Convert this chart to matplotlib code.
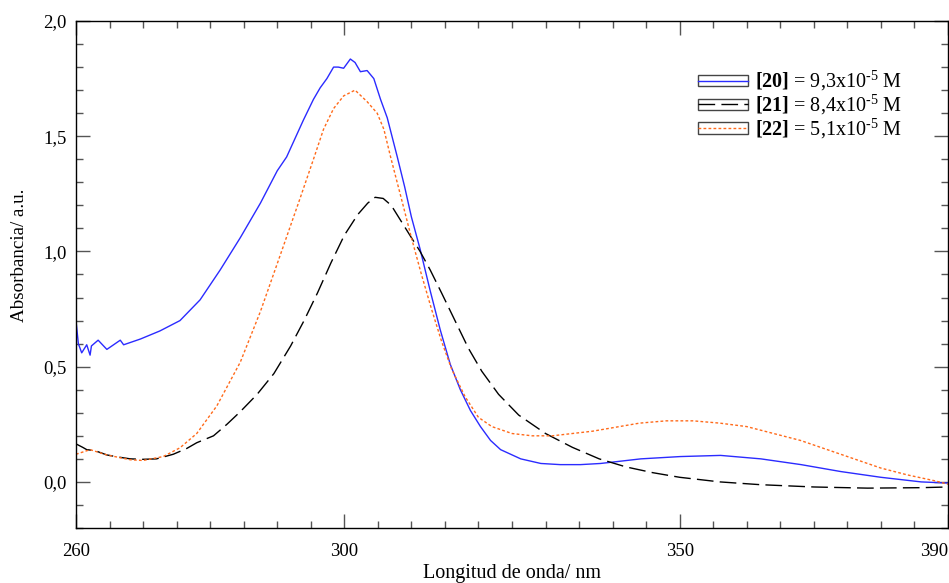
import matplotlib
matplotlib.use("Agg")
import matplotlib.pyplot as plt
from matplotlib.ticker import FixedLocator, MultipleLocator, FuncFormatter
from matplotlib.legend_handler import HandlerLine2D
from matplotlib.patches import Rectangle
from matplotlib.lines import Line2D

plt.rcParams["font.family"] = ["Liberation Serif", "DejaVu Serif"]
plt.rcParams["mathtext.fontset"] = "custom"
plt.rcParams["mathtext.rm"] = "Liberation Serif"
plt.rcParams["mathtext.it"] = "Liberation Serif:italic"
plt.rcParams["mathtext.bf"] = "Liberation Serif:bold"

# ---- spectra: wavelength (nm) and absorbance (a.u.) ----
wl_20 = [260.0, 260.35, 260.85, 261.6, 262.1, 262.3, 263.3, 264.6, 266.6, 267.1,
         269.6, 272.5, 275.5, 278.5, 281.5, 284.5, 287.5, 290.0, 291.4, 293.9,
         295.4, 296.4, 297.4, 298.4, 299.1, 299.9, 300.9, 301.6, 302.4, 303.4,
         304.4, 305.4, 306.4, 307.9, 309.0, 310.0, 311.3, 312.8, 314.3, 315.8,
         317.3, 318.8, 320.3, 321.8, 323.3, 326.3, 329.3, 332.2, 335.2, 338.2,
         344.2, 350.1, 356.1, 362.1, 368.1, 374.0, 380.0, 386.0, 390.0]
abs_20 = [0.70, 0.60, 0.56, 0.595, 0.55, 0.59, 0.615, 0.575, 0.615, 0.595,
          0.62, 0.655, 0.70, 0.79, 0.92, 1.06, 1.21, 1.35, 1.41, 1.57,
          1.66, 1.71, 1.75, 1.80, 1.80, 1.795, 1.835, 1.82, 1.78, 1.785,
          1.75, 1.66, 1.58, 1.41, 1.28, 1.15, 1.01, 0.83, 0.66, 0.51,
          0.40, 0.31, 0.24, 0.18, 0.14, 0.10, 0.08, 0.075, 0.075, 0.08,
          0.10, 0.11, 0.115, 0.10, 0.075, 0.045, 0.02, 0.0, -0.005]

wl_21 = [260.0, 261.0, 261.6, 262.8, 264.6, 266.5, 268.1, 270.0, 272.0, 274.5,
         276.5, 278.0, 280.5, 282.5, 284.5, 287.0, 289.5, 292.0, 294.0, 296.0,
         298.0, 300.0, 302.0, 303.5, 304.6, 305.8, 307.0, 308.5, 310.0, 311.3,
         312.8, 314.5, 316.5, 318.5, 320.5, 323.0, 326.0, 330.0, 334.0, 338.0,
         342.0, 346.0, 350.0, 356.0, 362.0, 370.0, 378.0, 386.0, 390.0]
abs_21 = [0.165, 0.15, 0.14, 0.136, 0.117, 0.107, 0.10, 0.098, 0.10, 0.12,
          0.145, 0.17, 0.20, 0.25, 0.305, 0.38, 0.47, 0.59, 0.70, 0.82,
          0.95, 1.07, 1.16, 1.21, 1.235, 1.23, 1.20, 1.13, 1.06, 1.00,
          0.92, 0.82, 0.70, 0.58, 0.48, 0.38, 0.29, 0.21, 0.15, 0.10,
          0.065, 0.04, 0.02, 0.0, -0.012, -0.022, -0.027, -0.025, -0.022]

wl_22 = [260.0, 262.1, 264.6, 268.1, 270.0, 273.0, 275.5, 278.0, 281.0, 284.5,
         287.5, 290.4, 293.4, 295.4, 296.9, 298.4, 299.9, 301.6, 303.4, 304.9,
         305.9, 306.9, 308.5, 310.0, 311.5, 313.0, 314.5, 316.0, 318.0, 320.0,
         322.0, 325.0, 328.0, 331.0, 334.0, 337.0, 340.0, 344.0, 348.0, 352.0,
         356.0, 360.0, 364.0, 368.0, 372.0, 376.0, 380.0, 384.0, 388.0, 390.0]
abs_22 = [0.12, 0.14, 0.117, 0.096, 0.093, 0.11, 0.148, 0.21, 0.33, 0.52,
          0.74, 0.98, 1.23, 1.40, 1.53, 1.62, 1.675, 1.70, 1.65, 1.60,
          1.53, 1.41, 1.23, 1.06, 0.90, 0.75, 0.61, 0.49, 0.37, 0.28,
          0.24, 0.21, 0.20, 0.20, 0.21, 0.22, 0.235, 0.255, 0.265, 0.265,
          0.255, 0.24, 0.21, 0.18, 0.14, 0.10, 0.06, 0.03, 0.005, -0.01]

labels = [r"$\mathbf{[20]}$ = 9,3x10$^{\text{-5}}$ M",
          r"$\mathbf{[21]}$ = 8,4x10$^{\text{-5}}$ M",
          r"$\mathbf{[22]}$ = 5,1x10$^{\text{-5}}$ M"]

x_ticks = [260, 300, 350, 390]
y_ticks = [0.0, 0.5, 1.0, 1.5, 2.0]


class BoxedLine(HandlerLine2D):
    """Legend handle: the line sample drawn inside a thin outlined box."""
    def create_artists(self, legend, orig_handle, xdescent, ydescent,
                       width, height, fontsize, trans):
        arts = super().create_artists(legend, orig_handle, xdescent, ydescent,
                                      width, height, fontsize, trans)
        h = 0.55 * fontsize
        box = Rectangle((-xdescent, -ydescent + height / 2 - h / 2), width, h,
                        fill=False, edgecolor="#444444", linewidth=1.0,
                        transform=trans)
        return [box] + list(arts)


fig = plt.figure(figsize=(9.49, 5.83), dpi=100)
ax = fig.add_axes([76 / 949, 55 / 583, 872 / 949, 507 / 583])

l20, = ax.plot(wl_20, abs_20, color="#2b2bff", lw=1.0, label=labels[0])
l21, = ax.plot(wl_21, abs_21, color="black", lw=1.0,
               linestyle=(0, (12, 4.5)), label=labels[1])
l22, = ax.plot(wl_22, abs_22, color="#ff6a1a", lw=1.0,
               linestyle=(0, (2, 1.6)), label=labels[2])

ax.set_xlim(260, 390)
ax.set_ylim(-0.2, 2.0)

ax.xaxis.set_major_locator(FixedLocator(x_ticks))
ax.xaxis.set_minor_locator(MultipleLocator(5))
ax.yaxis.set_major_locator(FixedLocator(y_ticks))
ax.yaxis.set_minor_locator(MultipleLocator(0.1))
ax.yaxis.set_major_formatter(FuncFormatter(lambda v, p: f"{v:.1f}".replace(".", ",")))
ax.xaxis.set_major_formatter(FuncFormatter(lambda v, p: f"{v:.0f}"))

ax.tick_params(which="both", direction="in", top=True, right=True,
               labelsize=13.5, color="#555555")
ax.tick_params(which="major", length=10, width=1.0)
ax.tick_params(which="minor", length=5, width=1.0)
ax.tick_params(axis="x", which="major", pad=11)
ax.tick_params(axis="y", which="major", pad=6.5)

for s in ax.spines.values():
    s.set_linewidth(1.0)
    s.set_color("black")

ax.set_xlabel("Longitud de onda/ nm", fontsize=14.5, labelpad=2.5)
ax.set_ylabel("Absorbancia/ a.u.", fontsize=13.7)
ax.yaxis.set_label_coords(-0.055, 0.538)

fig.canvas.draw()
xt = ax.get_xticklabels()
xt[-1].set_horizontalalignment("right")

leg = ax.legend(handles=[l20, l21, l22], loc="upper left",
                bbox_to_anchor=(0.713, 0.905), frameon=False, fontsize=14.5,
                handlelength=2.5, handletextpad=0.35, labelspacing=-0.02,
                borderpad=0.0, borderaxespad=0.0,
                handler_map={Line2D: BoxedLine()})

fig.savefig("out.png", dpi=100)
